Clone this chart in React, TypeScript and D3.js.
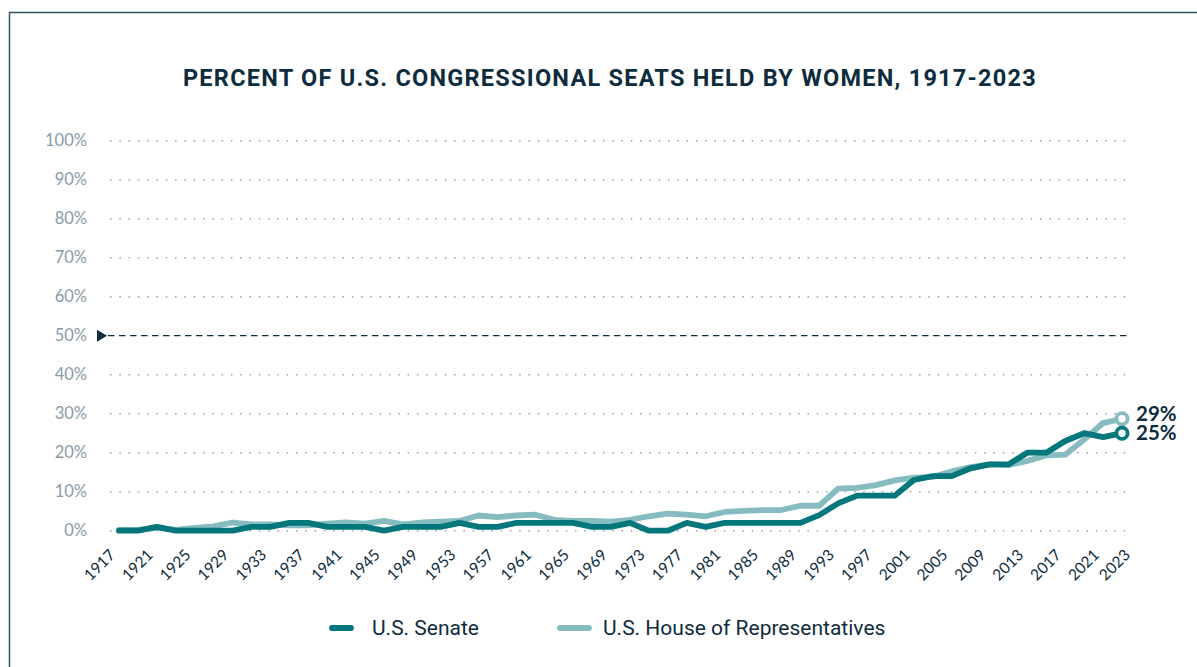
import * as d3 from 'd3';

const years = [
  1917, 1919, 1921, 1923, 1925, 1927, 1929, 1931, 1933, 1935, 1937, 1939, 1941, 1943,
  1945, 1947, 1949, 1951, 1953, 1955, 1957, 1959, 1961, 1963, 1965, 1967, 1969, 1971,
  1973, 1975, 1977, 1979, 1981, 1983, 1985, 1987, 1989, 1991, 1993, 1995, 1997, 1999,
  2001, 2003, 2005, 2007, 2009, 2011, 2013, 2015, 2017, 2019, 2021, 2023,
];

const senate = [
  0, 0, 1, 0, 0, 0, 0, 1, 1, 2, 2, 1, 1, 1,
  0, 1, 1, 1, 2, 1, 1, 2, 2, 2, 2, 1, 1, 2,
  0, 0, 2, 1, 2, 2, 2, 2, 2, 4, 7, 9, 9, 9,
  13, 14, 14, 16, 17, 17, 20, 20, 23, 25, 24, 25,
];

const house = [
  0.2, 0.2, 0.7, 0.2, 0.7, 1.1, 2.1, 1.6, 1.6, 1.4, 1.4, 1.8, 2.1, 1.8,
  2.5, 1.6, 2.1, 2.3, 2.5, 3.9, 3.5, 3.9, 4.1, 2.8, 2.5, 2.5, 2.3, 2.8,
  3.7, 4.4, 4.1, 3.7, 4.8, 5.1, 5.3, 5.3, 6.4, 6.4, 10.8, 11.0, 11.7, 12.9,
  13.6, 13.8, 15.2, 16.3, 17.0, 16.8, 17.9, 19.3, 19.5, 23.4, 27.6, 28.7,
];

const tickYears = [
  1917, 1921, 1925, 1929, 1933, 1937, 1941, 1945, 1949, 1953, 1957, 1961, 1965, 1969,
  1973, 1977, 1981, 1985, 1989, 1993, 1997, 2001, 2005, 2009, 2013, 2017, 2021, 2023,
];

const yTicks = [0, 10, 20, 30, 40, 50, 60, 70, 80, 90, 100];

const title = 'PERCENT OF U.S. CONGRESSIONAL SEATS HELD BY WOMEN, 1917-2023';
const seriesNames = ['U.S. Senate', 'U.S. House of Representatives'];

const W = 1197;
const H = 667;
const NAVY = '#0d2c3d';
const DARK = '#03777b';
const LIGHT = '#86bcbf';
const GRID = '#8fa3ad';

export default function App() {
  const x = d3.scaleLinear().domain([1917, 2023]).range([119, 1122]);
  const y = d3.scaleLinear().domain([0, 100]).range([530.7, 140.7]);

  const line = d3
    .line<number>()
    .x((_, i) => x(years[i]))
    .y((d) => y(d));

  const last = years.length - 1;

  return (
    <svg
      width={W}
      height={H}
      style={{ position: 'absolute', left: 0, top: 0, background: '#fff' }}
    >
      <path d={`M9.5,${H} V12.5 H${W}`} fill="none" stroke="#2f5566" strokeWidth={1.5} />

      <text
        x={610}
        y={86}
        textAnchor="middle"
        fontFamily="Roboto, sans-serif"
        fontWeight={700}
        fontSize={23.5}
        letterSpacing={1.25}
        fill={NAVY}
      >
        {title}
      </text>

      {yTicks.map((t) => (
        <g key={t}>
          {t !== 50 && (
            <line
              x1={110}
              x2={1130}
              y1={y(t)}
              y2={y(t)}
              stroke={GRID}
              strokeWidth={1.5}
              strokeDasharray="1.5 7.8"
            />
          )}
          <text
            x={87}
            y={y(t)}
            dy="0.35em"
            textAnchor="end"
            fontFamily="Lato, sans-serif"
            fontSize={16.5}
            fill="#8a9ba5"
          >
            {t}%
          </text>
        </g>
      ))}

      <line
        x1={108}
        x2={1130}
        y1={y(50)}
        y2={y(50)}
        stroke={NAVY}
        strokeWidth={1.3}
        strokeDasharray="6.5 4.5"
      />
      <path d={`M97,${y(50) - 6} L107,${y(50)} L97,${y(50) + 6} Z`} fill={NAVY} />

      {tickYears.map((t) => (
        <text
          key={t}
          transform={`translate(${x(t) - 3 + (t === 2023 ? 12 : 0)},556) rotate(-45)`}
          textAnchor="end"
          fontFamily="Lato, sans-serif"
          fontSize={15.5}
          fill={NAVY}
        >
          {t}
        </text>
      ))}

      <path
        d={line(house) ?? ''}
        fill="none"
        stroke={LIGHT}
        strokeWidth={5.8}
        strokeLinejoin="round"
        strokeLinecap="round"
      />
      <path
        d={line(senate) ?? ''}
        fill="none"
        stroke={DARK}
        strokeWidth={5.8}
        strokeLinejoin="round"
        strokeLinecap="round"
      />

      <circle cx={x(years[last])} cy={y(house[last])} r={5.6} fill="#fff" stroke={LIGHT} strokeWidth={3.8} />
      <circle cx={x(years[last])} cy={y(senate[last])} r={5.6} fill="#fff" stroke={DARK} strokeWidth={3.8} />

      <text
        x={1136}
        y={y(house[last]) + 2}
        fontFamily="Lato, sans-serif"
        fontWeight={700}
        fontSize={20.5}
        fill={NAVY}
      >
        {Math.round(house[last])}%
      </text>
      <text
        x={1136}
        y={y(senate[last]) + 7}
        fontFamily="Lato, sans-serif"
        fontWeight={700}
        fontSize={20.5}
        fill={NAVY}
      >
        {Math.round(senate[last])}%
      </text>

      <g fontFamily="Roboto, sans-serif" fontSize={21} fill={NAVY}>
        <line x1={332} x2={351} y1={628} y2={628} stroke={DARK} strokeWidth={5.8} strokeLinecap="round" />
        <text x={372} y={628} dy="0.35em">
          {seriesNames[0]}
        </text>
        <line x1={560} x2={589} y1={628} y2={628} stroke={LIGHT} strokeWidth={5.8} strokeLinecap="round" />
        <text x={603} y={628} dy="0.35em">
          {seriesNames[1]}
        </text>
      </g>
    </svg>
  );
}
